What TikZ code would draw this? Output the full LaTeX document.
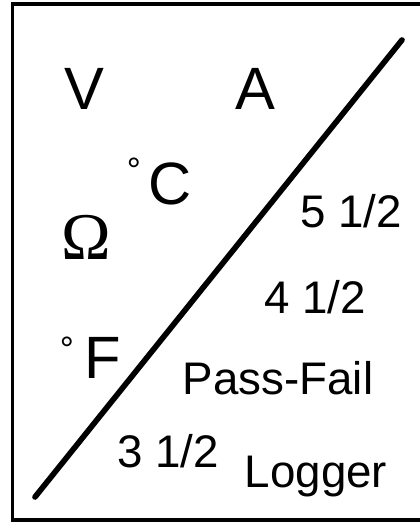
\documentclass[tikz,border=0pt]{standalone}
\usepackage{fontspec}
\setmainfont{Liberation Sans}
\newfontfamily\omegafont{Liberation Serif}
\usetikzlibrary{positioning}

\begin{document}
\begin{tikzpicture}[
  big/.style={anchor=base, inner sep=0pt, font=\fontsize{34}{34}\selectfont},
  small/.style={anchor=base, inner sep=0pt, font=\fontsize{26}{26}\selectfont},
  deg/.style={anchor=base, inner sep=0pt, font=\fontsize{20}{20}\selectfont},
  frame/.style={draw, line width=2.2pt},
  slash/.style={line width=3.2pt, line cap=round}
]
\useasboundingbox (0,0) rectangle (8.4,10.5);
\draw[frame] (0.25,0.1) rectangle (8.6,10.42);
\coordinate (lo) at (0.7,0.56);
\coordinate (hi) at (8.04,9.7);
\draw[slash] (lo) -- (hi);
\node[big] (volt) at (1.68,8.3) {V};
\node[big] (amp)  at (5.1,8.3) {A};
\node[big] (cels) at (3.4,6.4) {C};
\node[deg] (degc) at (2.68,6.84) {°};
\node[anchor=base, inner sep=0pt, font=\omegafont\fontsize{38}{38}\selectfont] (ohm) at (1.73,5.3) {Ω};
\node[big] (fahr) at (2.06,2.92) {F};
\node[deg] (degf) at (1.34,3.28) {°};
\node[small] (five)  at (7.02,5.94) {5 1/2};
\node[small] (four)  at (6.3,4.22) {4 1/2};
\node[small] (pass)  at (5.56,2.62) {Pass-Fail};
\node[small] (three) at (3.36,1.16) {3 1/2};
\node[small] (log)   at (6.32,0.76) {Logger};
\end{tikzpicture}
\end{document}
